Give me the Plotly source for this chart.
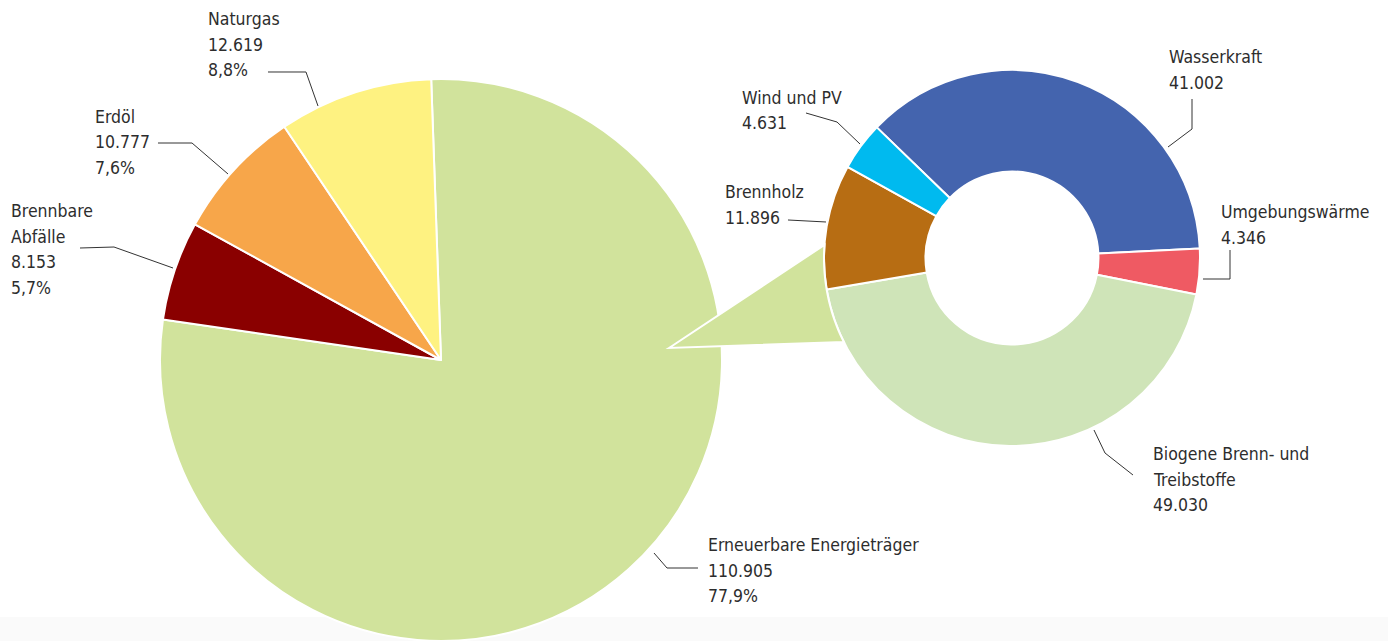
import math
import plotly.graph_objects as go

W, H = 1388, 641

# Primärenergie nach Energieträgern
main_labels = ["Erneuerbare Energieträger", "Brennbare Abfälle", "Erdöl", "Naturgas"]
main_values = [110905, 8153, 10777, 12619]
main_shares = [77.9, 5.7, 7.6, 8.8]
main_colors = ["#D1E39C", "#8A0000", "#F7A64A", "#FEF281"]

# Aufteilung der erneuerbaren Energieträger
ren_labels = ["Wasserkraft", "Umgebungswärme", "Biogene Brenn- und Treibstoffe",
              "Brennholz", "Wind und PV"]
ren_values = [41002, 4346, 49030, 11896, 4631]
ren_colors = ["#4464AE", "#EF5A63", "#CFE4B8", "#B76D13", "#00BAEF"]

FONT = dict(family="DejaVu Sans Condensed, Roboto, sans-serif", size=17.5, color="#2d2d2d")
LINE_H = 25.5


def px(x):
    return x / W


def py(y):
    return 1 - y / H


def fmt_num(v):
    return f"{v:,}".replace(",", ".")


def fmt_pct(p):
    return f"{p:.1f}".replace(".", ",") + "%"


# pie geometry in pixels (centre x, centre y, radius)
MAIN_C = (441, 360, 281)
REN_C = (1012, 258, 188)


def domain(cx, cy, r):
    return dict(x=[px(cx - r), px(cx + r)], y=[max(0.0, py(cy + r)), py(cy - r)])


fig = go.Figure()

fig.add_trace(go.Pie(
    labels=main_labels, values=main_values, sort=False, direction="clockwise",
    rotation=-2, textinfo="none", hoverinfo="label+value+percent",
    marker=dict(colors=main_colors, line=dict(color="white", width=2)),
    domain=domain(*MAIN_C), showlegend=False,
))

fig.add_trace(go.Pie(
    labels=ren_labels, values=ren_values, sort=False, direction="clockwise",
    rotation=-46, hole=0.46, textinfo="none", hoverinfo="label+value+percent",
    marker=dict(colors=ren_colors, line=dict(color="white", width=2)),
    domain=domain(*REN_C), showlegend=False,
))

shapes = []

# faint band at the foot of the page
shapes.append(dict(type="rect", xref="paper", yref="paper", layer="below",
                   x0=0, x1=1, y0=0, y1=py(617), fillcolor="#FAFAFA", line=dict(width=0)))

# connector wedge from the main pie to the ring, closed along the ring's outer edge
cx, cy, r = REN_C
tip = (669, 348)
a_top, a_bot = math.radians(184), math.radians(153.5)
pts = [tip]
n = 24
for i in range(n + 1):
    a = a_top + (a_bot - a_top) * i / n
    pts.append((cx + r * math.cos(a), cy + r * math.sin(a)))
path = "M " + " L ".join(f"{px(x):.5f},{py(y):.5f}" for x, y in pts) + " Z"
shapes.append(dict(type="path", xref="paper", yref="paper", layer="above", path=path,
                   fillcolor=main_colors[0], line=dict(color="white", width=2)))

# labels: (name lines, value text lines, left x, first-line centre y, leader polyline)
label_specs = [
    (["Erneuerbare Energieträger"], [fmt_num(main_values[0]), fmt_pct(main_shares[0])],
     706, 545, [(654, 553), (667, 568), (698, 568)]),
    (["Brennbare", "Abfälle"], [fmt_num(main_values[1]), fmt_pct(main_shares[1])],
     9, 211, [(80, 248), (114, 247), (173, 268)]),
    (["Erdöl"], [fmt_num(main_values[2]), fmt_pct(main_shares[2])],
     93, 117, [(158, 143), (192, 143), (228, 174)]),
    (["Naturgas"], [fmt_num(main_values[3]), fmt_pct(main_shares[3])],
     206, 19, [(268, 72), (306, 72), (318, 106)]),
    (["Wasserkraft"], [fmt_num(ren_values[0])],
     1167, 57, [(1192, 99), (1192, 129), (1168, 147)]),
    (["Umgebungswärme"], [fmt_num(ren_values[1])],
     1219, 212, [(1230, 250), (1230, 279), (1203, 279)]),
    (["Biogene Brenn- und", "Treibstoffe"], [fmt_num(ren_values[2])],
     1151, 454, [(1094, 430), (1105, 453), (1133, 475)]),
    (["Brennholz"], [fmt_num(ren_values[3])],
     723, 192, [(788, 220), (826, 222)]),
    (["Wind und PV"], [fmt_num(ren_values[4])],
     740, 98, [(806, 113), (837, 122), (860, 144)]),
]

annotations = []
for names, vals, lx, ly, leader in label_specs:
    for k, line in enumerate(names + vals):
        annotations.append(dict(
            text=line, xref="paper", yref="paper", x=px(lx), y=py(ly + k * LINE_H),
            xanchor="left", yanchor="middle", showarrow=False, font=FONT,
        ))
    lpath = "M " + " L ".join(f"{px(x):.5f},{py(y):.5f}" for x, y in leader)
    shapes.append(dict(type="path", xref="paper", yref="paper", layer="above",
                       path=lpath, line=dict(color="#333333", width=1)))

fig.update_layout(
    width=W, height=H, margin=dict(l=0, r=0, t=0, b=0),
    paper_bgcolor="white", plot_bgcolor="white",
    shapes=shapes, annotations=annotations, showlegend=False,
)

fig.write_html("out.html")
